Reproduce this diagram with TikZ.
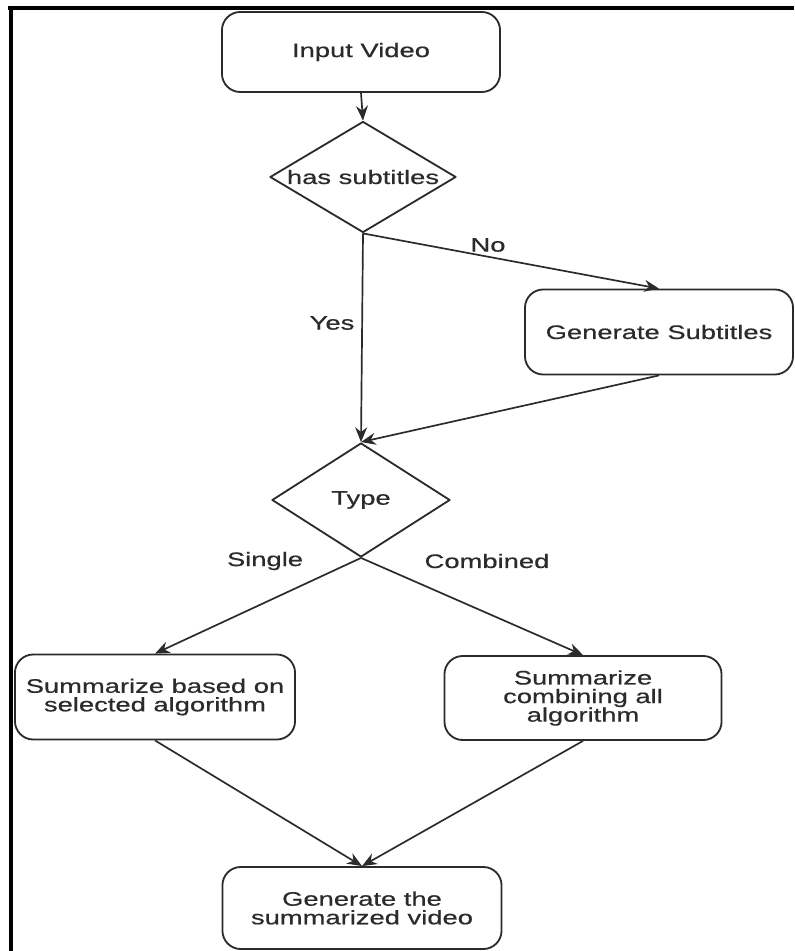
\documentclass[tikz,border=0pt]{standalone}
\usepackage{fontspec}
\setmainfont{Liberation Sans}[FakeStretch=1.4,FakeBold=0.6]
\usetikzlibrary{shapes.geometric,arrows.meta}
\definecolor{ink}{HTML}{2B2B2B}
\begin{document}
\begin{tikzpicture}[x=0.025cm,y=-0.025cm,>={Stealth[length=10.5pt,width=8.5pt]},
  font=\fontsize{13.9}{13.2}\selectfont, line join=round,
  box/.style={draw=ink,line width=1.3pt,rounded corners=13pt,align=center,text=ink,inner sep=0pt},
  decide/.style={draw=ink,line width=1.3pt,diamond,inner sep=0pt,text=ink},
  link/.style={->,draw=ink,line width=1.2pt},
  lbl/.style={text=ink,inner sep=0pt}]
\useasboundingbox (0,0) rectangle (794,951);
% frame
\draw[line width=3.4pt] (8,8)--(794,8) (11,8)--(11,951);
% boxes
\node[box,minimum width=6.95cm,minimum height=2cm] (in) at (361,52) {Input Video};
\node[decide,minimum width=4.65cm,minimum height=2.775cm,aspect=1.68] (has) at (363,177) {has subtitles};
\node[box,minimum width=6.7cm,minimum height=2.125cm] (gs) at (659,332) {Generate Subtitles};
\node[decide,minimum width=4.45cm,minimum height=2.85cm] (type) at (361,500) {Type};
\node[box,minimum width=7cm,minimum height=2.125cm] (sb) at (155,697) {Summarize based on\\selected algorithm};
\node[box,minimum width=6.925cm,minimum height=2.1cm] (sc) at (583,698) {Summarize\\combining all\\algorithm};
\node[box,minimum width=6.975cm,minimum height=2.05cm] (gv) at (362,908) {Generate the\\summarized video};
% labels
\node[lbl] (no) at (488,245) {No};
\node[lbl] (yes) at (332,323) {Yes};
\node[lbl] (single) at (265,561) {Single};
\node[lbl] (comb) at (487,561) {Combined};
% connectors
\draw[link] (in.south)--(has.north);
\draw[link] (has.south)--(type.north);
\draw[link] (has.south)--(gs.north);
\draw[link] (gs.south)--(type.north);
\draw[link] (type.south)--(sb.north);
\draw[link] (type.south)--(sc.north);
\draw[link] (sb.south)--(gv.north);
\draw[link] (sc.south)--(gv.north);
\end{tikzpicture}
\end{document}
